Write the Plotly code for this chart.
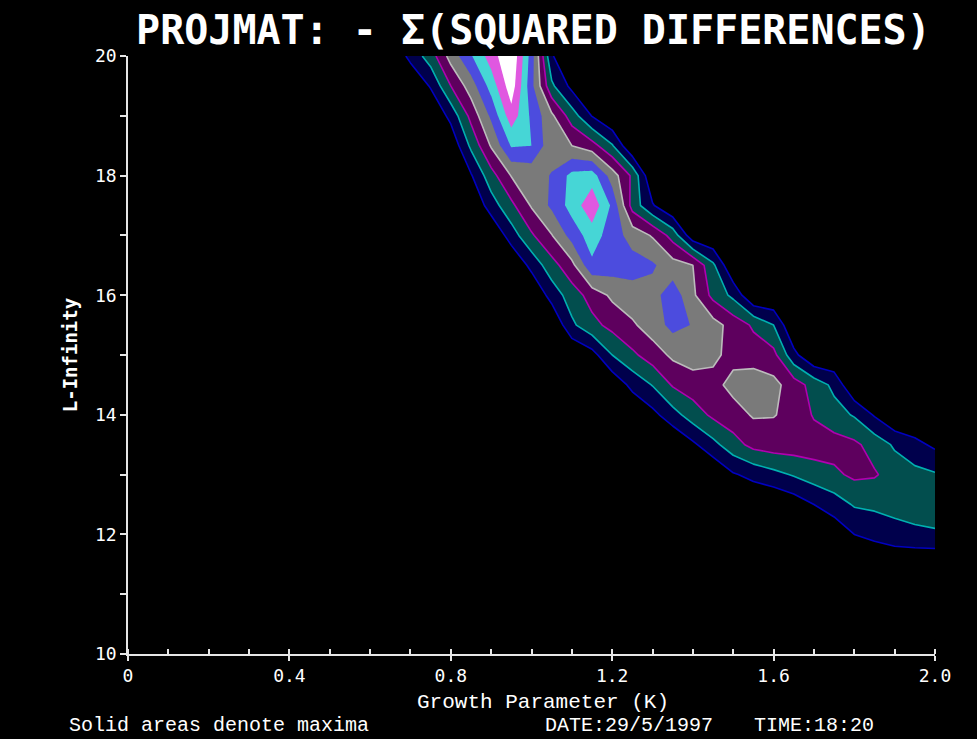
import plotly.graph_objects as go

# Grid of growth parameter K (columns) and L-infinity (rows)
growth_k = [0.65, 0.70, 0.75, 0.80, 0.85, 0.90, 0.95, 1.00, 1.05, 1.10,
            1.15, 1.20, 1.25, 1.30, 1.35, 1.40, 1.45, 1.50, 1.55, 1.60,
            1.65, 1.70, 1.75, 1.80, 1.85, 1.90, 1.95, 2.00]
l_infinity = [11.5, 12.0, 12.5, 13.0, 13.5, 14.0, 14.5, 15.0, 15.5,
              16.0, 16.5, 17.0, 17.5, 18.0, 18.5, 19.0, 19.5, 20.0]

# Fit score (negative sum of squared differences, rescaled to contour classes)
fit_score = [
    # L = 11.5
    [0, 0, 0, 0, 0, 0, 0, 0, 0, 0, 0, 0, 0, 0, 0, 0, 0, 0, 0, 0, 0, 0, 0, 0, 0, 0, 0, 0],
    # L = 12.0
    [0, 0, 0, 0, 0, 0, 0, 0, 0, 0, 0, 0, 0, 0, 0, 0, 0, 0, 0, 0, 0, 0, 0.3, 1.0, 1.3, 1.65, 1.8, 1.9],
    # L = 12.5
    [0, 0, 0, 0, 0, 0, 0, 0, 0, 0, 0, 0, 0, 0, 0, 0, 0, 0, 0, 0, 0.4, 1.0, 1.5, 2.1, 2.2, 2.3, 2.4, 2.4],
    # L = 13.0
    [0, 0, 0, 0, 0, 0, 0, 0, 0, 0, 0, 0, 0, 0, 0, 0, 0, 0.9, 1.3, 1.7, 2.1, 2.5, 2.8, 3.2, 3.1, 2.6, 2.3, 2.1],
    # L = 13.5
    [0, 0, 0, 0, 0, 0, 0, 0, 0, 0, 0, 0, 0, 0, 0, 0.8, 1.7, 2.6, 3.3, 3.5, 3.5, 3.5, 3.4, 3.2, 2.6, 1.85, 1.3, 0.8],
    # L = 14.0
    [0, 0, 0, 0, 0, 0, 0, 0, 0, 0, 0, 0, 0, 0.7, 1.6, 2.5, 3.2, 3.6, 4.1, 4.05, 3.7, 2.9, 2.4, 1.9, 0.9, 0, 0, 0],
    # L = 14.5
    [0, 0, 0, 0, 0, 0, 0, 0, 0, 0, 0, 0.2, 1.3, 2.05, 3.1, 3.5, 3.7, 4.3, 4.6, 4.3, 3.5, 2.6, 1.75, 0, 0, 0, 0, 0],
    # L = 15.0
    [0, 0, 0, 0, 0, 0, 0, 0, 0, 0, 0.6, 2.0, 2.8, 3.5, 4.2, 4.5, 4.2, 3.7, 3.5, 3.3, 1.3, 0, 0, 0, 0, 0, 0, 0],
    # L = 15.5
    [0, 0, 0, 0, 0, 0, 0, 0, 0, 1.8, 2.7, 3.3, 3.85, 4.5, 5.3, 4.95, 4.4, 3.6, 2.85, 2.0, 0, 0, 0, 0, 0, 0, 0, 0],
    # L = 16.0
    [0, 0, 0, 0, 0, 0, 0, 0, 1.4, 2.5, 3.4, 4.2, 4.6, 4.6, 5.6, 4.2, 2.7, 1.75, 0, 0, 0, 0, 0, 0, 0, 0, 0, 0],
    # L = 16.5
    [0, 0, 0, 0, 0, 0, 0, 1.3, 2.6, 3.7, 5.8, 5.5, 5.4, 5.15, 4.4, 4.0, 2.2, 0, 0, 0, 0, 0, 0, 0, 0, 0, 0, 0],
    # L = 17.0
    [0, 0, 0, 0, 0, 0, 1.5, 2.85, 3.95, 5.4, 6.5, 5.5, 4.6, 3.9, 2.6, 0.3, 0, 0, 0, 0, 0, 0, 0, 0, 0, 0, 0, 0],
    # L = 17.5
    [0, 0, 0, 0, 0, 1.5, 2.75, 4.1, 5.2, 6.4, 7.7, 5.8, 2.6, 1.1, 0, 0, 0, 0, 0, 0, 0, 0, 0, 0, 0, 0, 0, 0],
    # L = 18.0
    [0, 0, 0, 0, 0.9, 2.6, 4.05, 4.3, 5.1, 6.3, 6.5, 4.5, 2.8, 0, 0, 0, 0, 0, 0, 0, 0, 0, 0, 0, 0, 0, 0, 0],
    # L = 18.5
    [0, 0, 0, 0.2, 2.2, 4.1, 6.1, 6.0, 4.3, 4.0, 3.4, 2.1, 0, 0, 0, 0, 0, 0, 0, 0, 0, 0, 0, 0, 0, 0, 0, 0],
    # L = 19.0
    [0, 0, 0, 1.3, 3.3, 5.2, 7.6, 5.8, 4.2, 2.5, 0.95, 0, 0, 0, 0, 0, 0, 0, 0, 0, 0, 0, 0, 0, 0, 0, 0, 0],
    # L = 19.5
    [0, 0, 1.1, 3.0, 4.5, 6.4, 8.6, 5.3, 2.2, 0.7, 0, 0, 0, 0, 0, 0, 0, 0, 0, 0, 0, 0, 0, 0, 0, 0, 0, 0],
    # L = 20.0
    [0, 1.3, 2.5, 4.4, 5.9, 7.5, 9.0, 5.5, 1.1, 0, 0, 0, 0, 0, 0, 0, 0, 0, 0, 0, 0, 0, 0, 0, 0, 0, 0, 0],
]

# Contour classes 1..8 (class 8 and above is the solid maximum)
band_colors = ["#000000", "#00004c", "#024e4e", "#5e005e", "#7a7a7a",
               "#4c4cde", "#46d6d6", "#e058e0", "#ffffff"]
outline_colors = ["#0000c0", "#00b0b0", "#b000b0", "#bcbcbc"]

x_tick_vals = [0, 0.4, 0.8, 1.2, 1.6, 2.0]
x_tick_text = ["0", "0.4", "0.8", "1.2", "1.6", "2.0"]
y_tick_vals = [10, 12, 14, 16, 18, 20]

n_bands = len(band_colors)
fill_scale = [[i / (n_bands - 1), c] for i, c in enumerate(band_colors)]
n_lines = len(outline_colors)
line_scale = [[i / (n_lines - 1), c] for i, c in enumerate(outline_colors)]

fig = go.Figure()

fig.add_trace(go.Contour(
    x=growth_k, y=l_infinity, z=fit_score,
    contours=dict(start=1, end=8, size=1, coloring="fill", showlines=False),
    colorscale=fill_scale,
    line=dict(width=0, smoothing=0),
    showscale=False,
    hoverinfo="skip",
))

fig.add_trace(go.Contour(
    x=growth_k, y=l_infinity, z=fit_score,
    contours=dict(start=1, end=4, size=1, coloring="lines"),
    colorscale=line_scale,
    line=dict(width=1.6, smoothing=0),
    showscale=False,
    hoverinfo="skip",
))

axis_color = "#e6e6e6"
mono = "DejaVu Sans Mono"

fig.update_layout(
    width=977, height=739,
    margin=dict(l=128, r=42, t=56, b=85),
    paper_bgcolor="#000000",
    plot_bgcolor="#000000",
    showlegend=False,
    title=dict(
        text="<b>PROJMAT: - \u03a3(SQUARED DIFFERENCES)</b>",
        x=0.546, xanchor="center", y=0.959, yanchor="middle",
        font=dict(family=mono, size=40, color="#ffffff"),
    ),
    xaxis=dict(
        range=[0, 2.0],
        tickmode="array", tickvals=x_tick_vals, ticktext=x_tick_text,
        ticks="outside", ticklen=5, tickwidth=1.5, tickcolor=axis_color,
        minor=dict(dtick=0.1, tick0=0, ticks="inside", ticklen=5,
                   tickwidth=1.5, tickcolor=axis_color),
        showline=True, linecolor=axis_color, linewidth=1.5,
        showgrid=False, zeroline=False,
        tickfont=dict(family=mono, size=18, color="#ffffff"),
    ),
    yaxis=dict(
        range=[10, 20],
        tickmode="array", tickvals=y_tick_vals,
        ticks="outside", ticklen=6, tickwidth=1.5, tickcolor=axis_color,
        minor=dict(dtick=1, tick0=10, ticks="outside", ticklen=6,
                   tickwidth=1.5, tickcolor=axis_color),
        showline=True, linecolor=axis_color, linewidth=1.5,
        showgrid=False, zeroline=False,
        tickfont=dict(family=mono, size=18, color="#ffffff"),
        title=dict(text="<b>L-Infinity</b>", standoff=12,
                   font=dict(family=mono, size=19, color="#ffffff")),
    ),
)

# Axis title for K, placed under the tick labels
fig.add_annotation(text="Growth Parameter (K)", xref="paper", yref="paper",
                   x=0.514, y=-0.0803, xanchor="center", yanchor="middle",
                   showarrow=False,
                   font=dict(family="Liberation Mono", size=21, color="#ffffff"))

footer_font = dict(family="Liberation Mono", size=20, color="#ffffff")
fig.add_annotation(text="Solid areas denote maxima", xref="paper", yref="paper",
                   x=-0.0756, y=-0.1204, xanchor="left", yanchor="middle",
                   showarrow=False, font=footer_font)
fig.add_annotation(text="DATE:29/5/1997", xref="paper", yref="paper",
                   x=0.514, y=-0.1204, xanchor="left", yanchor="middle",
                   showarrow=False, font=footer_font)
fig.add_annotation(text="TIME:18:20", xref="paper", yref="paper",
                   x=0.773, y=-0.1204, xanchor="left", yanchor="middle",
                   showarrow=False, font=footer_font)

fig.write_html("out.html")
